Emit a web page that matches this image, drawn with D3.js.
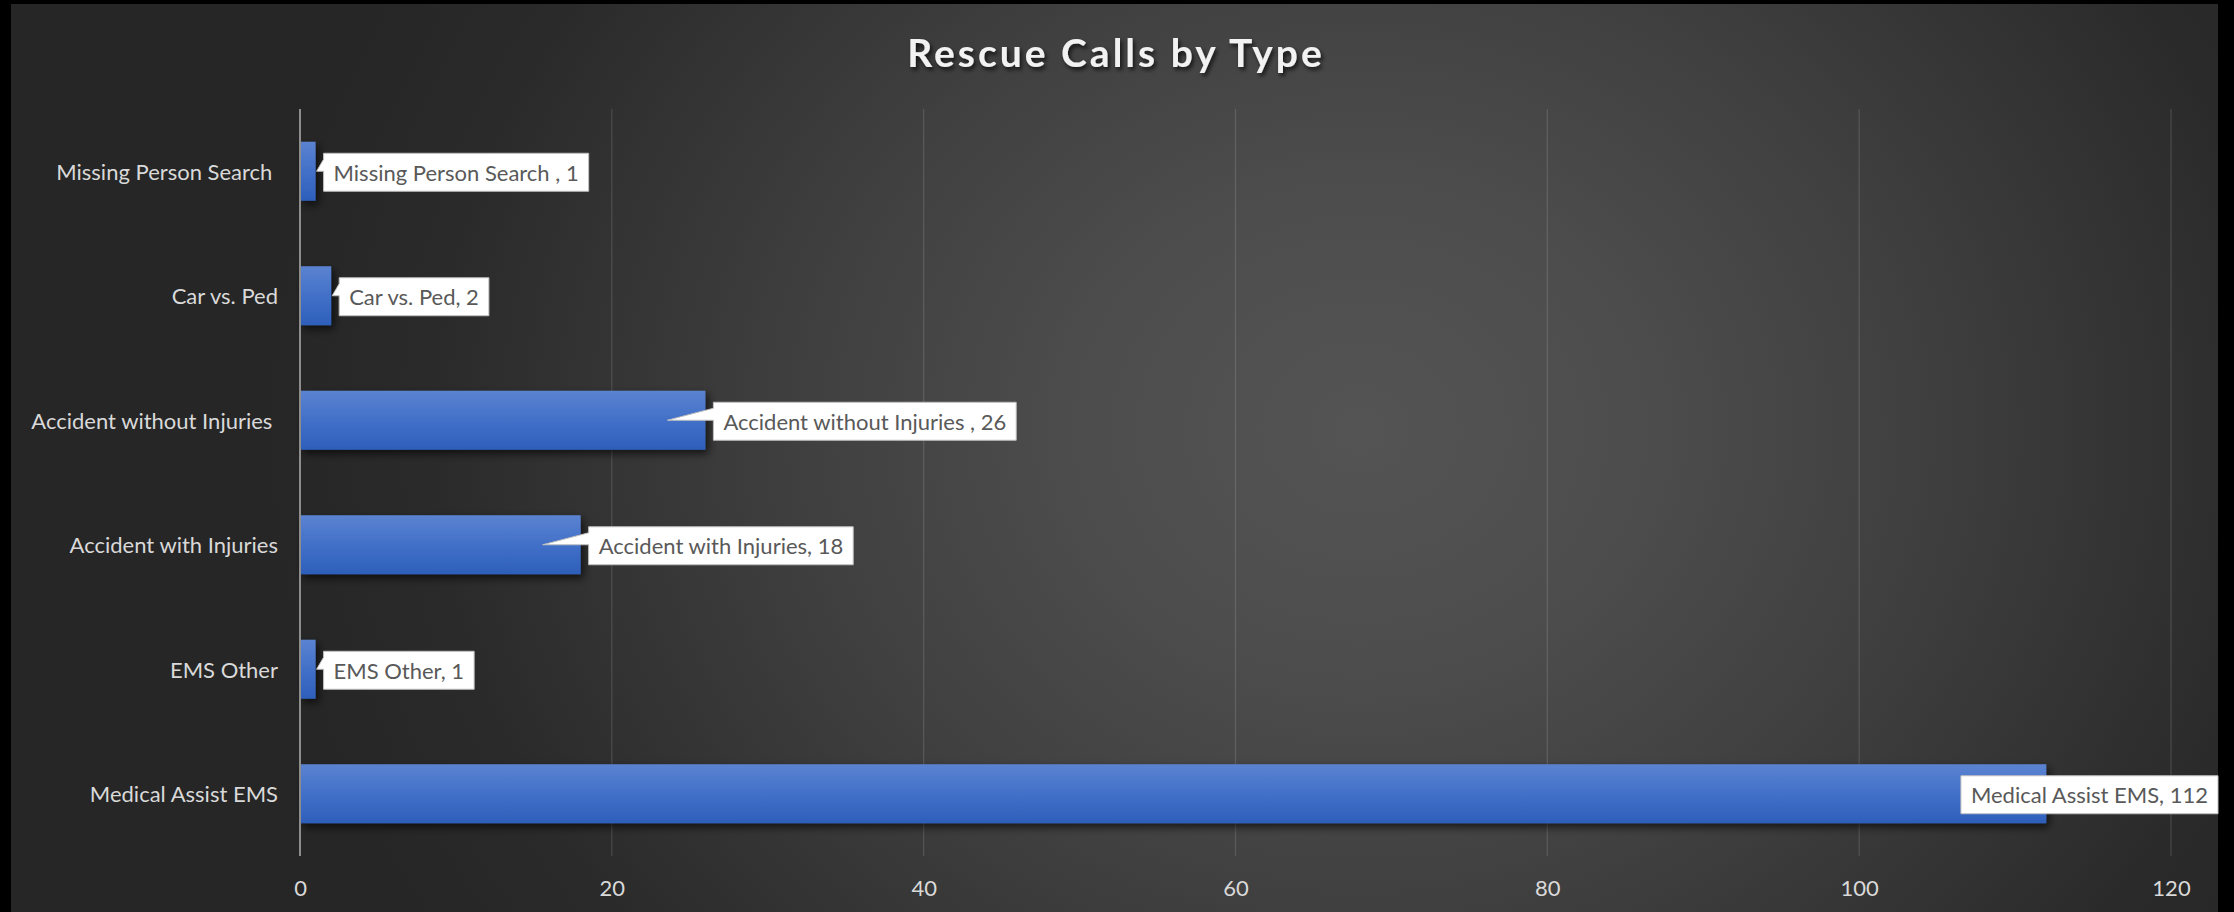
<!DOCTYPE html>
<html>
<head>
<meta charset="utf-8">
<script src="https://cdn.jsdelivr.net/npm/d3@7"></script>
<style>
  html, body { margin: 0; padding: 0; background: #000; }
  svg { display: block; }
  text { font-family: Lato, "Noto Sans", sans-serif; }
</style>
</head>
<body>
<svg id="chart" width="2234" height="912"></svg>
<script>
// Rescue call counts by call type (top to bottom as drawn)
const categories = [
  "Missing Person Search ",
  "Car vs. Ped",
  "Accident without Injuries ",
  "Accident with Injuries",
  "EMS Other",
  "Medical Assist EMS"
];
const callCounts = [1, 2, 26, 18, 1, 112];
const tickValues = [0, 20, 40, 60, 80, 100, 120];
const chartTitle = "Rescue Calls by Type";

const W = 2234, H = 912;
const frame = { left: 11, top: 4, right: 2218, bottom: 912 };
const plot = { left: 300, right: 2171, top: 109, bottom: 856 };

const svg = d3.select("#chart");
const defs = svg.append("defs");

// Background: dark radial glow
const bg = defs.append("radialGradient")
  .attr("id", "bgGrad")
  .attr("gradientUnits", "userSpaceOnUse")
  .attr("cx", 1360).attr("cy", 430).attr("r", 1000)
  .attr("gradientTransform", "translate(1360,430) scale(1.1,0.95) translate(-1360,-430)");
bg.append("stop").attr("offset", 0).attr("stop-color", "#545454");
bg.append("stop").attr("offset", 0.25).attr("stop-color", "#4d4d4d");
bg.append("stop").attr("offset", 0.5).attr("stop-color", "#404040");
bg.append("stop").attr("offset", 0.85).attr("stop-color", "#2a2a2a");
bg.append("stop").attr("offset", 1).attr("stop-color", "#262626");

// Bar fill: vertical blue gradient
const barGrad = defs.append("linearGradient")
  .attr("id", "barGrad").attr("x1", 0).attr("y1", 0).attr("x2", 0).attr("y2", 1);
barGrad.append("stop").attr("offset", 0).attr("stop-color", "#5b83d1");
barGrad.append("stop").attr("offset", 0.5).attr("stop-color", "#4270c8");
barGrad.append("stop").attr("offset", 1).attr("stop-color", "#2d5fba");

const barShadow = defs.append("filter").attr("id", "barShadow")
  .attr("x", "-10%").attr("y", "-20%").attr("width", "130%").attr("height", "160%");
barShadow.append("feDropShadow")
  .attr("dx", 3).attr("dy", 4).attr("stdDeviation", 4)
  .attr("flood-color", "#000").attr("flood-opacity", 0.65);

const titleShadow = defs.append("filter").attr("id", "titleShadow")
  .attr("x", "-5%").attr("y", "-30%").attr("width", "110%").attr("height", "160%");
titleShadow.append("feDropShadow")
  .attr("dx", 2).attr("dy", 3).attr("stdDeviation", 2)
  .attr("flood-color", "#000").attr("flood-opacity", 0.7);

svg.append("rect")
  .attr("x", frame.left).attr("y", frame.top)
  .attr("width", frame.right - frame.left).attr("height", frame.bottom - frame.top)
  .attr("fill", "url(#bgGrad)");

// Scales
const x = d3.scaleLinear().domain([0, 120]).range([plot.left, plot.right]);
const y = d3.scaleBand().domain(categories).range([plot.top, plot.bottom])
  .paddingInner(0.526).paddingOuter(0.263);

// Title
svg.append("text")
  .attr("x", 1116).attr("y", 52)
  .attr("text-anchor", "middle").attr("dominant-baseline", "central")
  .attr("fill", "#f2f2f2")
  .attr("font-size", 39).attr("font-weight", 700)
  .attr("letter-spacing", 3.0)
  .attr("filter", "url(#titleShadow)")
  .text(chartTitle);

// Vertical gridlines
svg.append("g").selectAll("line")
  .data(tickValues.filter(d => d !== 0))
  .join("line")
  .attr("x1", d => x(d)).attr("x2", d => x(d))
  .attr("y1", plot.top).attr("y2", plot.bottom)
  .attr("stroke", "rgba(255,255,255,0.13)").attr("stroke-width", 1.3);

// Value axis tick labels
const xAxis = d3.axisBottom(x).tickValues(tickValues).tickSize(0).tickPadding(0);
const xg = svg.append("g").attr("transform", `translate(0,${plot.bottom})`).call(xAxis);
xg.select(".domain").remove();
xg.selectAll("text")
  .attr("y", 31).attr("dy", null)
  .attr("dominant-baseline", "central")
  .attr("fill", "#d9d9d9")
  .attr("font-size", 22)
  .attr("font-family", "Lato, 'Noto Sans', sans-serif");

// Bars
svg.append("g").attr("filter", "url(#barShadow)")
  .selectAll("rect")
  .data(categories)
  .join("rect")
  .attr("x", x(0))
  .attr("y", d => y(d))
  .attr("width", (d, i) => x(callCounts[i]) - x(0))
  .attr("height", y.bandwidth())
  .attr("fill", "url(#barGrad)");

// Category axis
const yAxis = d3.axisLeft(y).tickSize(0).tickPadding(22);
const yg = svg.append("g").attr("transform", `translate(${plot.left},0)`).call(yAxis);
yg.select(".domain")
  .attr("stroke", "#8d8d8d").attr("stroke-width", 2)
  .attr("d", `M0,${plot.top}V${plot.bottom}`);
yg.selectAll("text")
  .attr("dy", null)
  .attr("dominant-baseline", "central")
  .attr("fill", "#d9d9d9")
  .attr("font-size", 22)
  .attr("font-family", "Lato, 'Noto Sans', sans-serif")
  .style("white-space", "pre");

// Data callouts: white box with a wedge pointing into the bar
const labels = svg.append("g");
categories.forEach((cat, i) => {
  const v = callCounts[i];
  const end = x(v);
  const cy = y(cat) + y.bandwidth() / 2;
  const g = labels.append("g");
  const path = g.append("path");
  const t = g.append("text")
    .attr("dominant-baseline", "central")
    .attr("fill", "#595959")
    .attr("font-size", 22)
    .style("white-space", "pre")
    .text(`${cat}, ${v}`);
  const tw = t.node().getComputedTextLength();
  const bw = tw + 20, bh = 38;
  let bx = end + 8;
  if (bx + bw > frame.right) bx = frame.right - bw;
  const by = cy - bh / 2 + 1;
  t.attr("x", bx + 10).attr("y", by + bh / 2);
  const tipX = (end - x(0)) > 100 ? end - 38 : end + 1;
  const tipY = cy;
  let d;
  if (tipX < bx - 2) {
    d = `M${bx},${by}H${bx + bw}V${by + bh}H${bx}V${by + 18}L${tipX},${tipY}L${bx},${by + 6}Z`;
  } else {
    d = `M${bx},${by}H${bx + bw}V${by + bh}H${bx}Z`;
  }
  path.attr("d", d).attr("fill", "#ffffff").attr("stroke", "#bfbfbf").attr("stroke-width", 1);
});
</script>
</body>
</html>
